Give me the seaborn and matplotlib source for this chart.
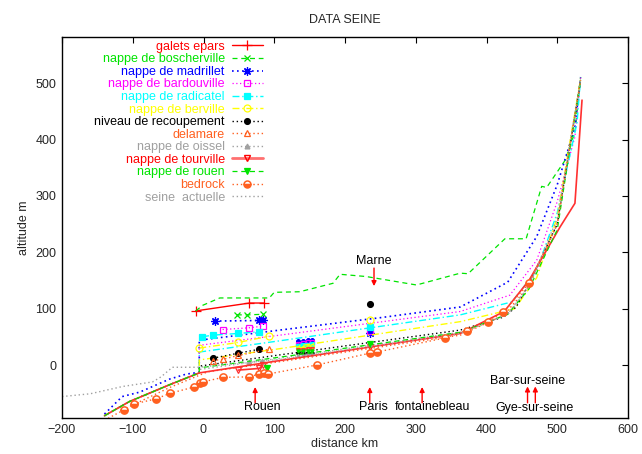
import matplotlib
matplotlib.use("Agg")
import matplotlib.pyplot as plt
from matplotlib.lines import Line2D
import seaborn as sns

# ---------------- data ----------------
title = "DATA SEINE"
x_label = "distance km"
y_label = "altitude m"
x_ticks = [-200, -100, 0, 100, 200, 300, 400, 500, 600]
y_ticks = [0, 100, 200, 300, 400, 500]

# profiles (lines without markers)
boscherville_line_x = [-11, -1, 23, 93, 100, 136, 183, 193, 230, 301, 363, 374, 426, 456, 478, 485, 511, 525, 533]
boscherville_line_y = [96, 106, 119, 119, 129, 130, 145, 161, 157, 142, 163, 162, 224, 224, 317, 315, 363, 413, 511]

madrillet_line_x = [-140, -115, -90, -48, -24, -6, -6, 108, 250, 363, 430, 471, 500, 525, 533]
madrillet_line_y = [-87, -56, -48, -25, -16, -13, 44, 62, 84, 103, 147, 228, 320, 422, 511]

bardouville_line_x = [-140, -105, -48, -6, -6, 108, 363, 433, 471, 500, 525, 533]
bardouville_line_y = [-90, -65, -35, -14, 35, 53, 95, 124, 186, 290, 405, 510]

radicatel_line_x = [-140, -105, -48, -6, -6, 108, 363, 436, 471, 500, 528, 533]
radicatel_line_y = [-90, -65, -35, -14, 23, 43, 89, 112, 168, 270, 430, 510]

berville_line_x = [-140, -105, -48, -6, -6, 108, 363, 440, 471, 500, 533]
berville_line_y = [-90, -65, -35, -14, 9, 29, 77, 100, 155, 262, 508]

recoupement_line_x = [-140, -105, -48, -6, -6, 108, 363, 424, 442, 458, 500, 533]
recoupement_line_y = [-90, -65, -35, -14, -2, 18, 62, 85, 103, 139, 250, 505]

delamare_line_x = [-90, -48, 6, 108, 363, 424, 460, 500, 533]
delamare_line_y = [-65, -40, -12, 6, 53, 88, 140, 250, 505]

oissel_line_x = [-140, -105, -48, -6, -6, 108, 363, 430, 460, 500, 533]
oissel_line_y = [-90, -65, -35, -14, -8, 12, 58, 90, 140, 250, 505]

tourville_line_x = [-140, -105, -48, -6, 108, 363, 425, 460, 504, 525, 535]
tourville_line_y = [-90, -65, -35, -14, 8, 56, 95, 150, 245, 287, 470]

rouen_line_x = [-140, -105, -48, -6, -6, 108, 363, 430, 460, 500, 533]
rouen_line_y = [-90, -65, -35, -14, -5, 14, 58, 90, 135, 240, 505]

bedrock_line_x = [-140, -113, -98, -67, -47, -13, -5, -1, 27, 64, 79, 85, 91, 160, 235, 245, 341, 372, 402, 424, 460, 500, 533]
bedrock_line_y = [-98, -80, -69, -60, -50, -39, -32, -30, -22, -21, -16, -15, -16, 0, 21, 23, 48, 61, 76, 94, 145, 250, 505]

seine_line_x = [-200, -160, -114, -72, -60, -44, -6, 0, 108, 363, 430, 460, 500, 533]
seine_line_y = [-56, -51, -38, -30, -21, -4, -4, -3, 10, 56, 90, 140, 260, 505]

# marked points
galets_x = [-11, 65, 85]
galets_y = [96, 110, 110]
boscherville_x = [47, 62, 84]
boscherville_y = [89, 89, 90]
madrillet_x = [16, 79, 84]
madrillet_y = [78, 79, 80]
bardouville_x = [27, 64, 84]
bardouville_y = [63, 66, 69]
radicatel_x = [-2, 13, 49, 79]
radicatel_y = [50, 53, 56, 59]
berville_x = [-6, 49, 92]
berville_y = [30, 40, 51]
recoupement_x = [13, 49, 79]
recoupement_y = [12, 21, 28]
delamare_x = [13, 27, 49, 93]
delamare_y = [8, 10, 17, 28]
oissel_x = [65, 82]
oissel_y = [5, 8]
tourville_x = [49, 79, 84]
tourville_y = [-9, -6, 0]
rouen_x = [90]
rouen_y = [-5]
bedrock_x = [-113, -98, -67, -47, -13, -5, -1, 27, 64, 79, 85, 91, 160, 235, 245, 341, 372, 402, 424, 460]
bedrock_y = [-80, -69, -60, -50, -39, -32, -30, -22, -21, -16, -15, -16, 0, 21, 23, 48, 61, 76, 94, 145]

# Paris column (x = 235)
paris_x = 235
paris_recoupement_y = 109
paris_berville_y = 80
paris_radicatel_y = 68
paris_bardouville_y = 61
paris_madrillet_y = 56
paris_rouen_y = 37
paris_tourville_y = 32

# dense cluster near x=130-160
cluster_x = [133, 140, 147, 154]
cluster_madrillet_y = [42, 43, 44, 45]
cluster_bardouville_y = [38, 39, 40, 41]
cluster_radicatel_y = [34, 35, 36, 37]
cluster_berville_y = [30, 31, 32, 33]
cluster_tourville_y = [27, 27, 28, 28]
cluster_rouen_y = [24, 24, 25, 25]
cluster_recoupement_y = [21, 21, 22, 22]
cluster_oissel_y = [18, 18, 19, 19]

labels = ["galets epars", "nappe de boscherville", "nappe de madrillet", "nappe de bardouville",
          "nappe de radicatel", "nappe de berville", "niveau de recoupement", "delamare",
          "nappe de oissel", "nappe de tourville", "nappe de rouen", "bedrock", "seine  actuelle"]

# annotations
places = ["Rouen", "Paris", "fontainebleau", "Marne", "Bar-sur-seine", "Gye-sur-seine"]
place_x = [83, 240, 324, 240, 458, 468]
place_y = [-75, -75, -75, 184, -28, -76]
arrow_x = [73, 235, 309, 241, 458, 469]
arrow_tail_y = [-67, -67, -67, 172, -67, -67]
arrow_head_y = [-39, -39, -39, 140, -38, -38]

# ---------------- style ----------------
RED = "#ff0000"
GREEN = "#00e400"
BLUE = "#0000ff"
MAGENTA = "#ff00ff"
CYAN = "#00ffff"
YELLOW = "#ffff00"
BLACK = "#000000"
ORANGE = "#ff6020"
GRAY = "#a0a0a0"
TOUR = "#ff3030"

DOT = (0, (1, 2))
DASH = (0, (4, 3))
DASHDOT = (0, (5, 2, 1, 2))
FS = 9

sns.set_style("white")
plt.rcParams["font.family"] = ["Liberation Sans", "DejaVu Sans"]
plt.rcParams["xtick.direction"] = "in"
plt.rcParams["ytick.direction"] = "in"
plt.rcParams["xtick.top"] = True
plt.rcParams["ytick.right"] = True

fig = plt.figure(figsize=(6.42, 4.54), dpi=100)
ax = fig.add_axes([62 / 642, 1 - 418 / 454, 566 / 642, 381 / 454])

series = [
    # label, color, linestyle, lw, marker, mfc, ms, line xy, point xy list
    ("galets epars", RED, "-", 1.0, "+", RED, 6.5, None, [(galets_x, galets_y)]),
    ("nappe de boscherville", GREEN, DASH, 0.9, "x", GREEN, 4.5,
     (boscherville_line_x, boscherville_line_y), [(boscherville_x, boscherville_y)]),
    ("nappe de madrillet", BLUE, DOT, 1.2, (8, 2, 0), BLUE, 6,
     (madrillet_line_x, madrillet_line_y),
     [(madrillet_x, madrillet_y), ([paris_x], [paris_madrillet_y]), (cluster_x, cluster_madrillet_y)]),
    ("nappe de bardouville", MAGENTA, DOT, 0.9, "s", "none", 5,
     (bardouville_line_x, bardouville_line_y),
     [(bardouville_x, bardouville_y), ([paris_x], [paris_bardouville_y]), (cluster_x, cluster_bardouville_y)]),
    ("nappe de radicatel", CYAN, DASHDOT, 1.0, "s", CYAN, 4.5,
     (radicatel_line_x, radicatel_line_y),
     [(radicatel_x, radicatel_y), ([paris_x], [paris_radicatel_y]), (cluster_x, cluster_radicatel_y)]),
    ("nappe de berville", YELLOW, DASHDOT, 1.0, "o", "none", 5,
     (berville_line_x, berville_line_y),
     [(berville_x, berville_y), ([paris_x], [paris_berville_y]), (cluster_x, cluster_berville_y)]),
    ("niveau de recoupement", BLACK, DOT, 1.0, "o", BLACK, 4.2,
     (recoupement_line_x, recoupement_line_y),
     [(recoupement_x, recoupement_y), ([paris_x], [paris_recoupement_y]), (cluster_x, cluster_recoupement_y)]),
    ("delamare", ORANGE, DOT, 1.0, "^", "none", 4.8,
     (delamare_line_x, delamare_line_y), [(delamare_x, delamare_y)]),
    ("nappe de oissel", GRAY, DOT, 1.0, "^", GRAY, 3.5,
     (oissel_line_x, oissel_line_y), [(oissel_x, oissel_y), (cluster_x, cluster_oissel_y)]),
    ("nappe de tourville", TOUR, "-", 1.2, "v", "none", 5,
     (tourville_line_x, tourville_line_y),
     [(tourville_x, tourville_y), ([paris_x], [paris_tourville_y]), (cluster_x, cluster_tourville_y)]),
    ("nappe de rouen", GREEN, DASH, 0.9, "v", GREEN, 4.2,
     (rouen_line_x, rouen_line_y),
     [(rouen_x, rouen_y), ([paris_x], [paris_rouen_y]), (cluster_x, cluster_rouen_y)]),
    ("bedrock", ORANGE, DOT, 1.0, None, None, 0,
     (bedrock_line_x, bedrock_line_y), []),
    ("seine  actuelle", GRAY, DOT, 1.0, None, None, 0,
     (seine_line_x, seine_line_y), []),
]

for lab, col, ls, lw, mk, mfc, ms, line, pts in series:
    if line is not None:
        sns.lineplot(x=line[0], y=line[1], ax=ax, sort=False, estimator=None,
                     color=col, linestyle=ls, linewidth=lw)
    for px, py in pts:
        sns.lineplot(x=px, y=py, ax=ax, sort=False, estimator=None,
                     color=col, linestyle=ls, linewidth=lw, marker=mk,
                     markerfacecolor=mfc, markeredgecolor=col, markeredgewidth=0.9,
                     markersize=(ms * 0.55 if px == cluster_x else ms))

# bedrock circles
sns.lineplot(x=bedrock_x, y=bedrock_y, ax=ax, sort=False, estimator=None,
             color=ORANGE, linestyle="none", marker="o", markersize=5.2,
             fillstyle="bottom", markerfacecolor=ORANGE, markerfacecoloralt="white",
             markeredgecolor=ORANGE, markeredgewidth=1.1)

# annotations
for name, tx, ty, axx, ty0, ty1 in zip(places, place_x, place_y, arrow_x, arrow_tail_y, arrow_head_y):
    ax.annotate("", xy=(axx, ty1), xytext=(axx, ty0),
                arrowprops=dict(arrowstyle="-|>", color="red", lw=1.0, mutation_scale=7,
                                shrinkA=0, shrinkB=0))
    ax.text(tx, ty, name, ha="center", va="center", fontsize=FS, color="black")

ax.set_xlim(-200, 600)
ax.set_ylim(-94, 582)
ax.set_xticks(x_ticks)
ax.set_yticks(y_ticks)
ax.tick_params(labelsize=FS, length=4, width=0.8, color="black", pad=4)
for s in ax.spines.values():
    s.set_color("black")
    s.set_linewidth(1.0)
    s.set_visible(True)
ax.set_xlabel(x_label, fontsize=FS, labelpad=2)
ax.set_ylabel(y_label, fontsize=FS, labelpad=4)
ax.set_title(title, fontsize=FS, pad=10)

# legend
handles = []
label_colors = []
for lab, col, ls, lw, mk, mfc, ms, line, pts in series:
    if lab == "bedrock":
        h = Line2D([], [], color=ORANGE, linestyle=ls, linewidth=lw, marker="o", markersize=5,
                   fillstyle="bottom", markerfacecolor=ORANGE, markerfacecoloralt="white",
                   markeredgecolor=ORANGE, markeredgewidth=1.1)
    elif lab == "nappe de tourville":
        h = Line2D([], [], color="#ff7070", linestyle="-", linewidth=2.0, marker=mk, markersize=5,
                   markerfacecolor="none", markeredgecolor=RED, markeredgewidth=1.0)
    elif mk is None:
        h = Line2D([], [], color=col, linestyle=ls, linewidth=lw)
    else:
        h = Line2D([], [], color=col, linestyle=ls, linewidth=lw, marker=mk, markersize=ms,
                   markerfacecolor=mfc, markeredgecolor=col, markeredgewidth=0.9)
    handles.append(h)
    label_colors.append(RED if lab == "nappe de tourville" else col)

leg = ax.legend(handles, labels, loc="upper right", bbox_to_anchor=(0.355, 0.99),
                frameon=False, markerfirst=False, fontsize=FS, handlelength=2.5,
                handletextpad=0.55, labelspacing=0.045, borderpad=0, borderaxespad=0,
                numpoints=1)
for t, c in zip(leg.get_texts(), label_colors):
    t.set_color(c)

fig.savefig("out.png", dpi=100)
